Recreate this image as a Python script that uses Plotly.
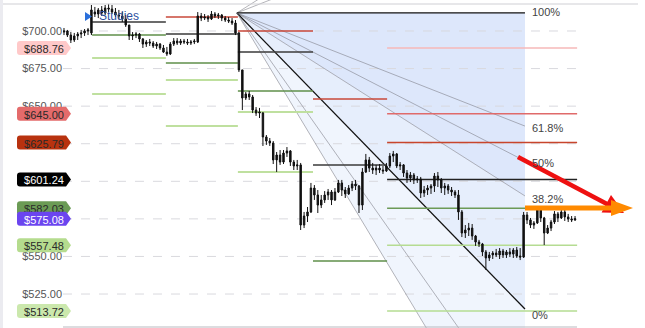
import plotly.graph_objects as go

# ---------------- data ----------------
bar_index = list(range(150))
bar_open = [699.3, 700.0, 697.3, 694.0, 696.7, 698.0, 698.7, 700.0, 698.7, 712.6,
            711.3, 714.0, 712.0, 715.3, 714.6, 712.6, 710.6, 710.0, 708.0, 704.0,
            696.7, 697.3, 698.0, 694.7, 691.3, 692.7, 692.0, 690.0, 691.3, 688.7,
            686.0, 684.7, 691.3, 693.3, 692.0, 693.3, 692.7, 692.0, 692.7, 692.7,
            710.0, 708.6, 709.3, 708.0, 711.3, 710.0, 710.6, 708.6, 707.3, 706.6,
            705.3, 698.7, 674.1, 655.4, 658.1, 656.1, 647.4, 645.4, 645.4, 629.5,
            626.8, 625.5, 614.2, 617.5, 612.8, 618.8, 620.2, 612.8, 610.2, 610.9,
            570.9, 576.9, 579.6, 595.5, 590.9, 584.2, 587.6, 590.9, 592.9, 587.6,
            592.9, 598.9, 594.2, 591.6, 595.5, 598.2, 596.9, 584.2, 606.2, 614.2,
            608.8, 607.5, 608.8, 607.5, 606.9, 610.2, 616.8, 618.2, 610.2, 610.9,
            605.5, 602.2, 604.2, 600.9, 601.5, 592.2, 594.2, 595.5, 596.9, 603.5,
            600.9, 595.5, 596.9, 594.2, 592.9, 590.9, 579.6, 565.6, 567.6, 568.9,
            563.6, 559.6, 558.3, 553.0, 549.0, 551.0, 552.3, 551.0, 553.6, 551.0,
            553.0, 551.6, 554.3, 550.3, 549.6, 577.6, 574.3, 570.9, 572.3, 580.9,
            575.6, 565.6, 568.9, 572.9, 578.3, 575.6, 579.6, 576.3, 574.9, 574.3]
bar_high = [702.0, 700.7, 699.3, 698.7, 699.3, 700.7, 701.3, 702.0, 717.3, 716.0,
            715.3, 716.6, 717.3, 718.0, 717.3, 715.3, 714.0, 712.6, 710.6, 704.0,
            699.3, 699.3, 698.7, 695.3, 694.0, 694.7, 693.3, 692.7, 692.0, 690.7,
            689.4, 692.7, 695.3, 695.3, 694.7, 694.7, 694.7, 694.0, 694.7, 712.6,
            712.0, 711.3, 710.6, 713.3, 712.6, 712.0, 711.3, 710.0, 709.3, 708.6,
            707.3, 699.3, 674.1, 659.4, 660.1, 657.4, 649.4, 648.8, 646.1, 630.8,
            628.8, 626.8, 619.5, 620.8, 620.8, 622.8, 620.8, 614.2, 614.2, 612.2,
            579.6, 582.9, 598.9, 597.5, 594.2, 590.9, 593.5, 594.9, 594.2, 595.5,
            600.9, 600.9, 596.2, 597.5, 600.2, 600.9, 597.5, 608.8, 618.2, 616.2,
            612.2, 610.9, 611.5, 610.2, 612.2, 618.8, 620.2, 618.8, 612.8, 611.5,
            607.5, 606.2, 605.5, 603.5, 602.9, 596.9, 597.5, 598.2, 605.5, 606.2,
            602.2, 598.9, 598.2, 596.2, 594.2, 594.2, 580.9, 570.9, 572.3, 571.6,
            564.3, 561.0, 559.0, 554.3, 553.0, 553.6, 555.0, 555.6, 555.0, 554.3,
            555.6, 555.6, 556.3, 555.6, 579.6, 579.6, 575.6, 573.6, 582.9, 582.9,
            576.3, 570.9, 574.3, 580.2, 579.6, 581.6, 581.6, 578.3, 576.9, 576.9]
bar_low = [697.3, 696.0, 692.0, 692.7, 694.0, 695.3, 696.7, 697.3, 697.3, 709.3,
           708.6, 710.0, 710.6, 712.6, 711.3, 709.3, 708.0, 706.0, 702.7, 694.0,
           694.0, 695.3, 692.7, 688.7, 689.4, 690.0, 688.7, 688.0, 687.4, 685.4,
           683.4, 684.0, 690.0, 690.7, 690.7, 691.3, 690.7, 690.7, 691.3, 692.0,
           706.6, 707.3, 706.0, 707.3, 708.6, 708.0, 706.6, 706.0, 705.3, 704.0,
           697.3, 672.7, 647.4, 654.1, 654.1, 645.4, 643.5, 642.1, 623.5, 624.2,
           623.5, 611.5, 606.2, 610.9, 611.5, 616.2, 610.2, 607.5, 607.5, 567.6,
           568.9, 572.9, 578.9, 587.6, 578.9, 582.2, 585.6, 587.6, 584.2, 586.9,
           592.2, 590.2, 588.9, 590.9, 593.5, 594.2, 578.9, 580.9, 605.5, 606.2,
           604.9, 604.2, 605.5, 604.9, 606.2, 608.8, 612.8, 608.8, 607.5, 602.9,
           598.9, 599.5, 598.2, 598.9, 588.9, 589.6, 590.9, 591.6, 592.9, 596.2,
           592.2, 590.9, 591.6, 590.2, 588.9, 574.3, 562.9, 562.3, 563.6, 561.0,
           557.0, 556.3, 550.3, 541.0, 547.0, 548.3, 549.6, 548.3, 549.0, 549.0,
           549.6, 549.0, 549.0, 547.6, 549.0, 571.6, 568.9, 568.3, 571.6, 572.9,
           557.6, 564.9, 566.9, 571.6, 572.9, 574.9, 573.6, 572.9, 572.9, 573.6]
bar_close = [700.0, 697.3, 694.0, 696.7, 698.0, 698.7, 700.0, 700.7, 714.0, 711.3,
             714.0, 712.0, 715.3, 714.6, 712.6, 710.6, 710.0, 708.0, 704.0, 696.7,
             697.3, 698.0, 694.7, 691.3, 692.7, 692.0, 690.0, 691.3, 688.7, 686.0,
             684.7, 691.3, 693.3, 692.0, 693.3, 692.7, 692.0, 692.7, 693.3, 710.0,
             708.6, 709.3, 708.0, 711.3, 710.0, 710.6, 708.6, 707.3, 706.6, 705.3,
             698.7, 674.1, 655.4, 658.1, 656.1, 647.4, 645.4, 646.1, 629.5, 626.8,
             625.5, 614.2, 617.5, 612.8, 618.8, 620.2, 612.8, 610.2, 610.9, 570.9,
             576.9, 579.6, 595.5, 590.9, 584.2, 587.6, 590.9, 592.9, 587.6, 592.9,
             598.9, 594.2, 591.6, 595.5, 598.2, 596.9, 584.2, 606.2, 614.2, 608.8,
             607.5, 608.8, 607.5, 606.9, 610.2, 616.8, 618.2, 610.2, 610.9, 605.5,
             602.2, 604.2, 600.9, 601.5, 592.2, 594.2, 595.5, 596.9, 603.5, 600.9,
             595.5, 596.9, 594.2, 592.9, 590.9, 579.6, 565.6, 567.6, 568.9, 563.6,
             559.6, 558.3, 553.0, 549.0, 551.0, 552.3, 551.0, 553.6, 551.0, 553.0,
             551.6, 554.3, 550.3, 549.6, 577.6, 574.3, 570.9, 572.3, 580.9, 575.6,
             565.6, 568.9, 572.9, 578.3, 575.6, 579.6, 576.3, 574.9, 574.3, 575.08]

axis_ticks = [700, 675, 650, 625, 600, 575, 550, 525]
axis_labels = ["$700.00", "$675.00", "$650.00", "$625.00", "$600.00", "$575.00", "$550.00", "$525.00"]

# pivot segments (bar-index range and price)
seg_x0 = [8.2, 8.2, 8.2, 8.2,
          29.7, 29.7, 29.7, 29.7, 29.7,
          50.7, 50.7, 50.7, 50.7, 50.7,
          72.6, 72.6, 72.6]
seg_x1 = [29.7, 29.7, 29.7, 29.7,
          50.7, 50.7, 50.7, 50.7, 50.7,
          72.6, 72.6, 72.6, 72.6, 72.6,
          94.2, 94.2, 94.2]
seg_price = [706.0, 697.3, 682.0, 658.1,
             709.3, 698.0, 678.7, 667.4, 636.8,
             700.0, 686.0, 660.1, 646.1, 606.2,
             654.8, 610.9, 547.0]
seg_kind = ["pivot", "s1", "s2", "s2",
            "r1", "pivot", "s1", "s2", "s2",
            "r1", "pivot", "s1", "s2", "s2",
            "r1", "pivot", "s1"]

# current levels (last segment) with their tags
level_prices = [688.76, 645.00, 625.79, 601.24, 582.03, 557.48, 513.72]
level_labels = ["$688.76", "$645.00", "$625.79", "$601.24", "$582.03", "$557.48", "$513.72"]
level_colors = ["#f6b9b9", "#e06a6a", "#c8452c", "#222222", "#6c9a57", "#b5dc92", "#b5dc92"]
tag_colors = ["#ffc9c9", "#e46b6b", "#b8320f", "#000000", "#6b9b55", None, "#b5dc8e", "#cbe8ad"]
last_price = 575.08
level_x0, level_x1 = 94.2, 149.6

# fibonacci fan
fan_x0, fan_x1 = 50.4, 134.4
fan_high, fan_low = 712.0, 515.0
fan_levels = [1.618, 1.382, 1.0, 0.618, 0.5, 0.382, 0.0, -0.382, -0.618]
fib_label_levels = [1.0, 0.618, 0.5, 0.382, 0.0]
fib_label_texts = ["100%", "61.8%", "50%", "38.2%", "0%"]
fib_label_shift = [1, -2, -2, -3, -6]

# ---------------- figure ----------------
L = 63
W, H = 645, 328
PW = W - L
YMIN, YMAX = 502.4, 720.62
PPX = (YMAX - YMIN) / H  # price units per pixel


def px_x(px):
    return (px - L) / PW


def px_y(py):
    return 1 - py / H


def fan_price(lv):
    return fan_low + lv * (fan_high - fan_low)


fig = go.Figure()
fig.add_trace(go.Candlestick(
    x=bar_index, open=bar_open, high=bar_high, low=bar_low, close=bar_close,
    increasing=dict(line=dict(color="#111", width=1), fillcolor="#111"),
    decreasing=dict(line=dict(color="#111", width=1), fillcolor="#111"),
    whiskerwidth=0, showlegend=False, hoverinfo="skip"))

shapes = []
# fan fills
shapes.append(dict(type="path", xref="x", yref="y", layer="below", line=dict(width=0),
                   fillcolor="#dde7fb",
                   path=f"M {fan_x0},{fan_high} L {fan_x1},{fan_high} L {fan_x1},{fan_price(0.382)} Z"))
shapes.append(dict(type="path", xref="x", yref="y", layer="below", line=dict(width=0),
                   fillcolor="#e6eefc",
                   path=f"M {fan_x0},{fan_high} L {fan_x1},{fan_price(0.382)} L {fan_x1},{fan_price(0.0)} Z"))
shapes.append(dict(type="path", xref="x", yref="y", layer="below", line=dict(width=0),
                   fillcolor="#f0f5fd",
                   path=f"M {fan_x0},{fan_high} L {fan_x1},{fan_price(0.0)} L {fan_x1},{fan_price(-0.618)} Z"))

# dashed gridlines
for v in axis_ticks:
    shapes.append(dict(type="line", xref="x", yref="y", layer="below",
                       x0=-0.3, x1=149.6, y0=v, y1=v,
                       line=dict(color="#d9d9de", width=1, dash="dash")))

# fan lines
for lv in fan_levels:
    strong = lv in (0.0, 1.0)
    shapes.append(dict(type="line", xref="x", yref="y", layer="below",
                       x0=fan_x0, y0=fan_high, x1=fan_x1, y1=fan_price(lv),
                       line=dict(color="#111" if strong else "rgba(120,120,130,0.55)",
                                 width=1.3 if strong else 1)))

seg_style = {"pivot": ("rgba(70,70,70,0.8)", 2),
             "r1": ("#c9493a", 1.5),
             "s1": ("#5f8f4a", 1.5),
             "s2": ("#bfe09f", 2)}
for x0, x1, p, k in zip(seg_x0, seg_x1, seg_price, seg_kind):
    c, w = seg_style[k]
    shapes.append(dict(type="line", xref="x", yref="y", layer="below",
                       x0=x0, x1=x1, y0=p, y1=p, line=dict(color=c, width=w)))
for p, c in zip(level_prices, level_colors):
    shapes.append(dict(type="line", xref="x", yref="y", layer="below",
                       x0=level_x0, x1=level_x1, y0=p, y1=p, line=dict(color=c, width=1.5)))

# frame pieces
shapes.append(dict(type="rect", xref="paper", yref="paper", x0=px_x(0), x1=px_x(3), y0=0, y1=1,
                   fillcolor="#ebebf0", line=dict(width=0), layer="above"))
shapes.append(dict(type="line", xref="paper", yref="paper", x0=px_x(3), x1=px_x(638),
                   y0=px_y(4), y1=px_y(4), line=dict(color="#cfcfd4", width=1)))
shapes.append(dict(type="line", xref="paper", yref="paper", x0=px_x(63), x1=px_x(577),
                   y0=px_y(327), y1=px_y(327), line=dict(color="#b9b9bf", width=1)))

# price tags (rounded left corners, pointer on the right)
tag_prices = level_prices[:5] + [last_price] + level_prices[5:]
tag_texts = level_labels[:5] + [f"${last_price:.2f}"] + level_labels[5:]
tag_fill = tag_colors[:5] + ["#6b45ef"] + tag_colors[6:]
tag_font = ["#2a2a2a", "#2a2a2a", "#2a2a2a", "#ffffff", "#2a2a2a", "#ffffff", "#2a2a2a", "#2a2a2a"]
half = 7 * PPX
rx, ry = px_x(20) - px_x(17), 3 * PPX
for p, t, fc, tc in zip(tag_prices, tag_texts, tag_fill, tag_font):
    xa, xb, xc = px_x(17), px_x(66), px_x(71)
    top, bot = p + half, p - half
    path = (f"M {xa + rx},{top} L {xb},{top} L {xc},{p} L {xb},{bot} L {xa + rx},{bot} "
            f"Q {xa},{bot} {xa},{bot + ry} L {xa},{top - ry} Q {xa},{top} {xa + rx},{top} Z")
    shapes.append(dict(type="path", xref="paper", yref="y", layer="above",
                       path=path, fillcolor=fc, line=dict(width=0),
                       label=dict(text=t, font=dict(size=11, color=tc, family="Liberation Sans, Arial"),
                                  textposition="middle center")))

# studies marker
shapes.append(dict(type="path", xref="paper", yref="paper", layer="above",
                   path=f"M {px_x(85)},{px_y(12)} L {px_x(92)},{px_y(16.5)} L {px_x(85)},{px_y(21)} Z",
                   fillcolor="#2a6fdb", line=dict(width=0)))

# red arrow
shapes.append(dict(type="line", xref="paper", yref="paper", layer="above",
                   x0=px_x(518), y0=px_y(157), x1=px_x(607), y1=px_y(204),
                   line=dict(color="#ee1111", width=4.5)))
shapes.append(dict(type="path", xref="paper", yref="paper", layer="above",
                   path=f"M {px_x(601.6)},{px_y(212.5)} L {px_x(624)},{px_y(213)} L {px_x(611)},{px_y(194.9)} Z",
                   fillcolor="#ee1111", line=dict(width=0)))
# orange arrow
shapes.append(dict(type="line", xref="paper", yref="paper", layer="above",
                   x0=px_x(525), y0=px_y(208), x1=px_x(614), y1=px_y(208),
                   line=dict(color="#ff8a00", width=5)))
shapes.append(dict(type="path", xref="paper", yref="paper", layer="above",
                   path=f"M {px_x(611)},{px_y(200)} L {px_x(633)},{px_y(208)} L {px_x(611)},{px_y(216)} Z",
                   fillcolor="#ff8a00", line=dict(width=0)))

annotations = []
for lv, t, sh in zip(fib_label_levels, fib_label_texts, fib_label_shift):
    annotations.append(dict(x=136.0, y=fan_price(lv), xref="x", yref="y", text=t,
                            showarrow=False, xanchor="left", yanchor="middle", yshift=sh,
                            font=dict(size=11, color="#444", family="Liberation Sans, Arial")))
annotations.append(dict(x=px_x(97), y=px_y(16.5), xref="paper", yref="paper", text="Studies",
                        showarrow=False, xanchor="left", yanchor="middle",
                        font=dict(size=12, color="#2c4f9e", family="Liberation Sans, Arial")))

fig.update_layout(
    width=W, height=H, margin=dict(l=L, r=0, t=0, b=0),
    paper_bgcolor="white", plot_bgcolor="white",
    shapes=shapes, annotations=annotations, boxgap=0.4,
    xaxis=dict(range=[-0.29, 169.39], visible=False, rangeslider=dict(visible=False)),
    yaxis=dict(range=[YMIN, YMAX], tickvals=axis_ticks, ticktext=axis_labels,
               showgrid=False, zeroline=False, showline=False, ticks="",
               tickfont=dict(size=11, color="#555", family="Liberation Sans, Arial")),
    showlegend=False,
)

fig.write_html("out.html")
